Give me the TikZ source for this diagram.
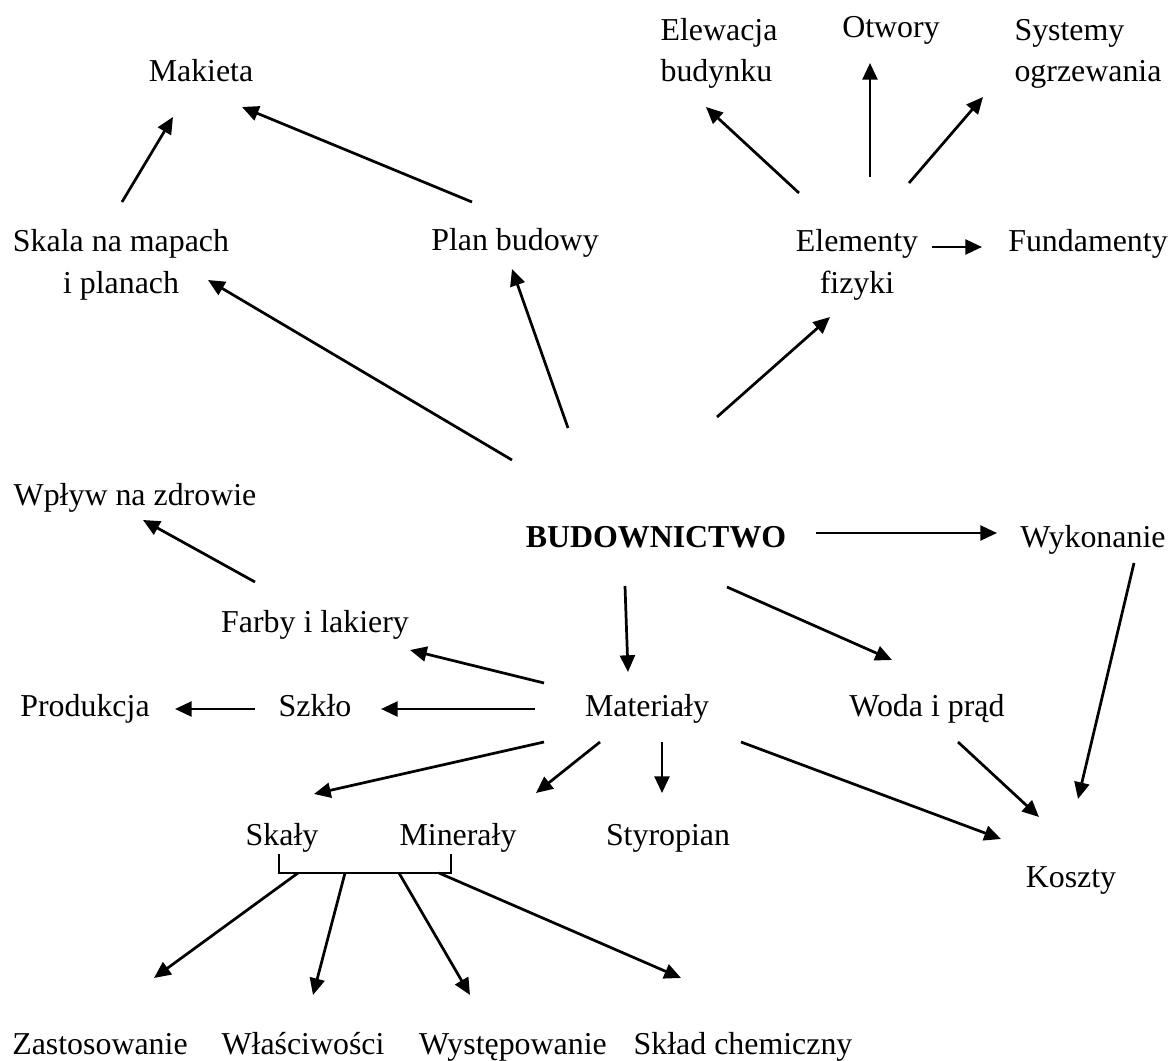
\documentclass[tikz,border=0pt]{standalone}
\usepackage{fontspec}
\setmainfont{Liberation Serif}
\usetikzlibrary{arrows.meta}

\begin{document}
\begin{tikzpicture}[x=0.02cm, y=-0.02cm,
	every node/.style = {anchor=base, inner sep=0pt,
		font=\fontsize{18.15pt}{23.9pt}\selectfont},
	arr/.style = {-{Triangle[length=9.5pt, width=8.5pt]}, line width=1.55pt},
	bar/.style = {line width=1.55pt}]
	\useasboundingbox (0,0) rectangle (1170,1061);
	% upper part (two-line nodes sit on their last line)
	\node (makieta) at (201,82) {Makieta};
	\node[align=left] (elewacja) at (719,82) {Elewacja\\budynku};
	\node (otwory) at (891,38) {Otwory};
	\node[align=left] (systemy) at (1088,82) {Systemy\\ogrzewania};
	\node[align=center] (skala) at (121,293) {Skala na mapach\\i planach};
	\node (plan) at (515,250) {Plan budowy};
	\node[align=center] (elementy) at (857,293) {Elementy\\fizyki};
	\node (fundamenty) at (1088,251) {Fundamenty};
	% middle part
	\node (wplyw) at (135,505) {Wpływ na zdrowie};
	\node (bud) at (656,547) {\textbf{BUDOWNICTWO}};
	\node (wykonanie) at (1093,547) {Wykonanie};
	\node (farby) at (315,632) {Farby i lakiery};
	\node (produkcja) at (85,716) {Produkcja};
	\node (szklo) at (315,716) {Szkło};
	\node (materialy) at (647,716) {Materiały};
	\node (woda) at (927,716) {Woda i prąd};
	% lower part
	\node (skaly) at (282,845) {Skały};
	\node (mineraly) at (458,845) {Minerały};
	\node (styropian) at (668,845) {Styropian};
	\node (koszty) at (1071,887) {Koszty};
	\node (zastosowanie) at (100,1054) {Zastosowanie};
	\node (wlasciwosci) at (303,1054) {Właściwości};
	\node (wystepowanie) at (513,1054) {Występowanie};
	\node (sklad) at (743,1054) {Skład chemiczny};

	\draw[arr] ([shift={(1,-91)}]skala.base) -- ([shift={(-28,35)}]makieta.base);
	\draw[arr] ([shift={(-43,-48)}]plan.base) -- ([shift={(41,25)}]makieta.base);
	\draw[arr] ([shift={(-144,-87)}]bud.base) -- ([shift={(87,-13)}]skala.base);
	\draw[arr] ([shift={(-88,-119)}]bud.base) -- ([shift={(-3,19)}]plan.base);
	\draw[arr] ([shift={(61,-130)}]bud.base) -- ([shift={(-27,24)}]elementy.base);
	\draw[arr] ([shift={(-58,-100)}]elementy.base) -- ([shift={(-13,25)}]elewacja.base);
	\draw[arr] ([shift={(13,-116)}]elementy.base) -- ([shift={(-21,25)}]otwory.base);
	\draw[arr] ([shift={(52,-110)}]elementy.base) -- ([shift={(-105,15)}]systemy.base);
	\draw[arr] ([shift={(75,-46)}]elementy.base) -- ([shift={(-106,-4)}]fundamenty.base);
	\draw[arr] ([shift={(160,-14)}]bud.base) -- ([shift={(-96,-14)}]wykonanie.base);
	\draw[arr] ([shift={(41,16)}]wykonanie.base) -- ([shift={(7,-88)}]koszty.base);
	\draw[arr] ([shift={(-31,39)}]bud.base) -- ([shift={(-19,-44)}]materialy.base);
	\draw[arr] ([shift={(71,40)}]bud.base) -- ([shift={(-35,-56)}]woda.base);
	\draw[arr] ([shift={(-60,-50)}]farby.base) -- ([shift={(8,15)}]wplyw.base);
	\draw[arr] ([shift={(-103,-33)}]materialy.base) -- ([shift={(95,18)}]farby.base);
	\draw[arr] ([shift={(-112,-7)}]materialy.base) -- ([shift={(66,-7)}]szklo.base);
	\draw[arr] ([shift={(-60,-7)}]szklo.base) -- ([shift={(90,-7)}]produkcja.base);
	\draw[arr] ([shift={(-103,26)}]materialy.base) -- ([shift={(32,-51)}]skaly.base);
	\draw[arr] ([shift={(-47,26)}]materialy.base) -- ([shift={(78,-52)}]mineraly.base);
	\draw[arr] ([shift={(15,26)}]materialy.base) -- ([shift={(-6,-52)}]styropian.base);
	\draw[arr] ([shift={(94,26)}]materialy.base) -- ([shift={(-70,-48)}]koszty.base);
	\draw[arr] ([shift={(31,26)}]woda.base) -- ([shift={(-32,-70)}]koszty.base);

	% bracket under Skały and Minerały
	\draw[bar] ([shift={(-3,9)}]skaly.base) -- ++(0,19) -| ([shift={(-7,9)}]mineraly.base);
	\coordinate (brace) at ([shift={(-3,28)}]skaly.base);
	\draw[arr] ([xshift=19*0.02cm]brace) -- ([shift={(54,-76)}]zastosowanie.base);
	\draw[arr] ([xshift=66*0.02cm]brace) -- ([shift={(10,-59)}]wlasciwosci.base);
	\draw[arr] ([xshift=120*0.02cm]brace) -- ([shift={(-43,-59)}]wystepowanie.base);
	\draw[arr] ([xshift=160*0.02cm]brace) -- ([shift={(-62,-76)}]sklad.base);
\end{tikzpicture}
\end{document}
